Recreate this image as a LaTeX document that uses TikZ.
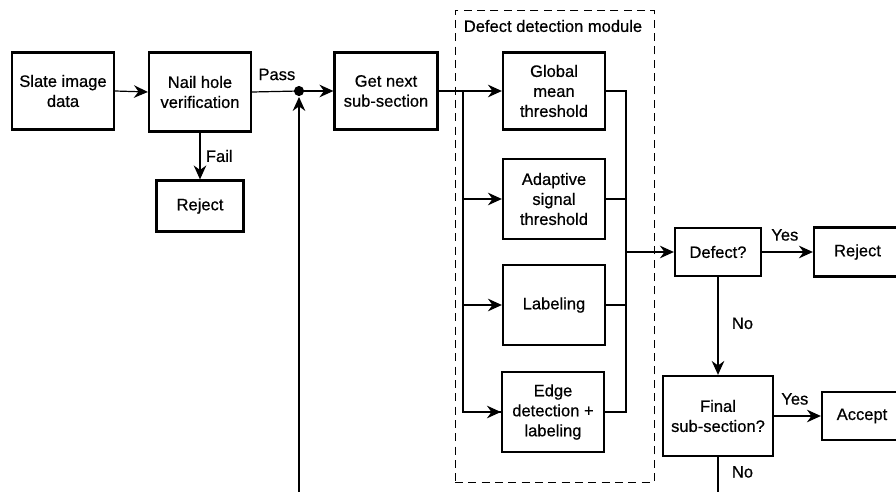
\documentclass[tikz,border=0pt]{standalone}
\usepackage{fontspec}
\setmainfont{Liberation Sans}[FakeBold=0.6]
\usetikzlibrary{arrows.meta}
\begin{document}
\begin{tikzpicture}[x=0.75pt,y=-0.75pt,
  every node/.style={font=\fontsize{12.4}{15}\selectfont},
  blk/.style 2 args={draw,line width=1.7pt,align=center,inner sep=0pt,
    minimum width=#1*0.75pt,minimum height=#2*0.75pt},
  conn/.style={line width=0.9pt},
  arr/.style={conn,-{Stealth[length=10.5pt,width=9.5pt,inset=3.5pt]}},
  lbl/.style={inner sep=1pt}]
\useasboundingbox (0,0) rectangle (896,492);
\clip (0,0) rectangle (896,492);
% dashed module
\node[draw,dash pattern=on 6pt off 4pt,line width=0.6pt,inner sep=0pt,
  minimum width=199*0.75pt,minimum height=472*0.75pt] (mod) at (554.5,246) {};
\node[lbl] (modlbl) at (553,26) {Defect detection module};
% boxes
\node[blk={102}{77}] (slate) at (63,91) {Slate image\\data};
\node[blk={102}{79}] (nail) at (200,92) {Nail hole\\verification};
\node[blk={87}{51}] (rej1) at (200,206) {Reject};
\node[blk={103}{77}] (next) at (386,91) {Get next\\sub-section};
\node[blk={102}{77}] (glob) at (554,91) {Global\\mean\\threshold};
\node[blk={102}{80}] (adap) at (554,199) {Adaptive\\signal\\threshold};
\node[blk={102}{80}] (lab) at (554,305) {Labeling};
\node[blk={102}{80}] (edge) at (553,412) {Edge\\detection +\\labeling};
\node[blk={86}{48}] (defect) at (718,252) {Defect?};
\node[blk={87}{49}] (rej2) at (857.5,252) {Reject};
\node[blk={110}{80}] (final) at (718,416) {Final\\sub-section?};
\node[blk={80}{48}] (acc) at (862,416) {Accept};
% junction dot
\fill (299,91) circle (3.8pt);
\coordinate (dot) at (299,91);
\coordinate (bot) at (299,492);
\coordinate (fbot) at (718,492);
\coordinate (lb) at (463,91);
\coordinate (rb) at (626,91);
% connectors
\draw[arr] (slate.east) -- (nail.west);
\draw[arr] (nail.south) -- node[lbl,right,xshift=3pt] {Fail} (rej1.north);
\draw[conn] (nail.east) -- node[lbl,above,yshift=7pt,xshift=1pt] {Pass} (dot);
\draw[arr] (dot) -- (next.west);
\draw[arr] (bot) -- ([yshift=-4.5pt]dot);
\draw[conn] (next.east) -- (lb);
\draw[arr] (lb) -- (glob.west);
\draw[conn] (lb) |- (edge.west);
\draw[arr] (lb |- adap.west) -- (adap.west);
\draw[arr] (lb |- lab.west) -- (lab.west);
\draw[arr] (lb |- edge.west) -- (edge.west);
\draw[conn] (glob.east) -- (rb) |- (edge.east);
\draw[conn] (adap.east) -- (rb |- adap.east);
\draw[conn] (lab.east) -- (rb |- lab.east);
\draw[arr] (rb |- defect.west) -- (defect.west);
\draw[arr] (defect.east) -- node[lbl,above,yshift=7pt,xshift=-2pt] {Yes} (rej2.west);
\draw[arr] (defect.south) -- node[lbl,right,xshift=9pt,yshift=2pt] {No} (final.north);
\draw[arr] (final.east) -- node[lbl,above,yshift=7pt,xshift=-2pt] {Yes} (acc.west);
\draw[conn] (final.south) -- node[lbl,right,xshift=9pt,yshift=2pt] {No} (fbot);
\end{tikzpicture}
\end{document}
